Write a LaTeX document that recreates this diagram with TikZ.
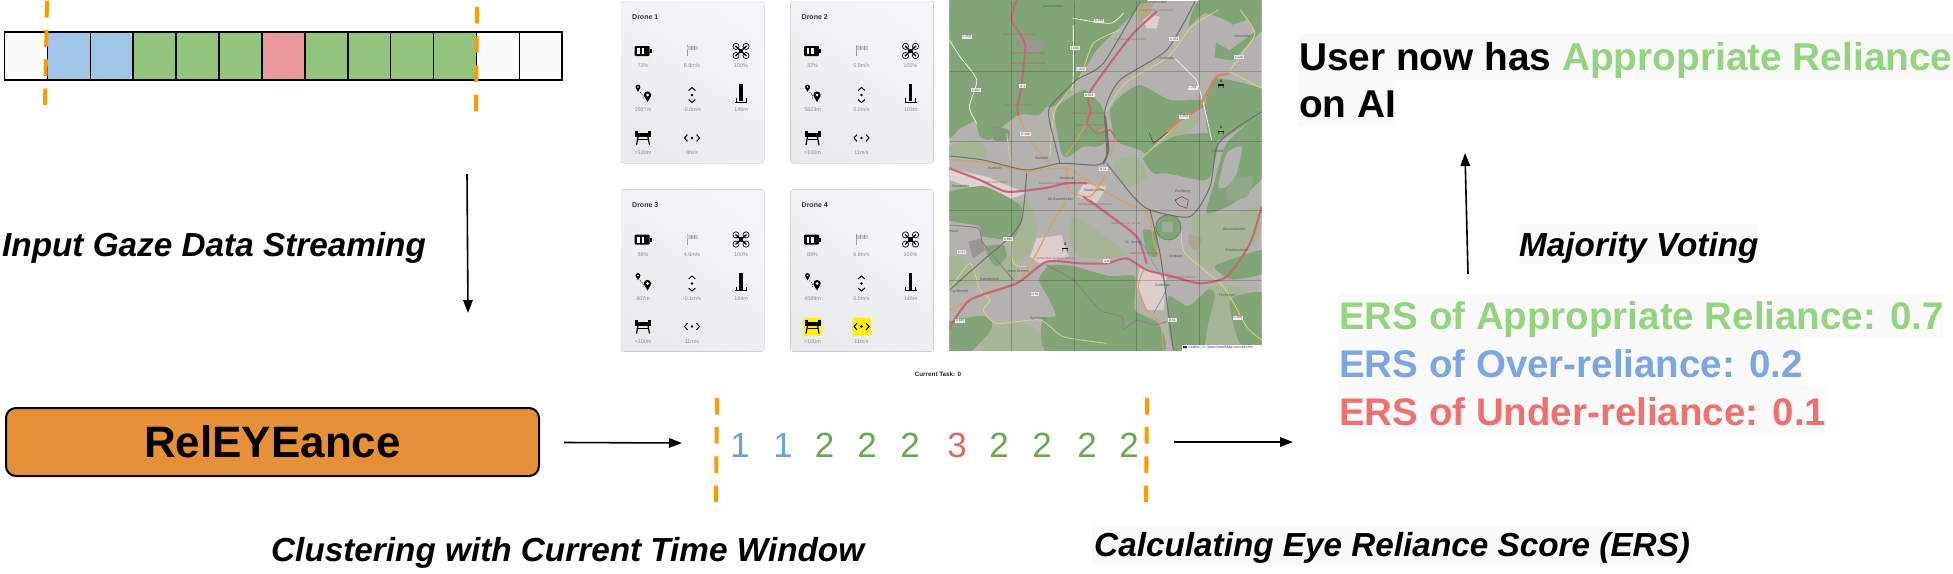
\documentclass[tikz,border=0pt]{standalone}
\usepackage{fontspec}
\setmainfont{Liberation Sans}
\usetikzlibrary{arrows.meta,shapes.geometric}
\definecolor{cwhite}{HTML}{FBFBFB}
\definecolor{cblue}{HTML}{9FC5E8}
\definecolor{cgreen}{HTML}{93C47D}
\definecolor{cred}{HTML}{EA9999}
\definecolor{corange}{HTML}{FF9900}
\definecolor{boxor}{HTML}{E69138}
\definecolor{dblue}{HTML}{6FA0DC}
\definecolor{dgreen}{HTML}{6AA84F}
\definecolor{dred}{HTML}{E06666}
\definecolor{tgreen}{HTML}{93D47F}
\definecolor{tblue}{HTML}{7BA5E3}
\definecolor{tred}{HTML}{F07070}
\definecolor{bgt}{HTML}{FAFAFA}
\definecolor{forest}{HTML}{82A577}
\definecolor{lforest}{HTML}{A6B596}
\definecolor{urban}{HTML}{B4B2AE}
\definecolor{aroad}{HTML}{C9667A}
\definecolor{oroad}{HTML}{D9A05E}
\definecolor{yroad}{HTML}{DAD67F}
\definecolor{rail}{HTML}{707070}
\definecolor{bound}{HTML}{8A7F8A}
\definecolor{lgray}{HTML}{8C8C8C}
\definecolor{paneltop}{HTML}{F5F6F9}
\definecolor{panelbot}{HTML}{E9EAEC}
\tikzset{
  cellbox/.style={draw=black,line width=1.6pt,minimum width=42.9pt,minimum height=48pt,inner sep=0pt,outer sep=0pt},
  winline/.style={draw=corange,line width=4pt,dash pattern=on 16.5pt off 12.7pt},
  flow/.style={draw=black,line width=1.6pt,-{Triangle[length=13pt,width=9.5pt]},shorten >=0pt},
  digit/.style={font=\fontsize{35}{35}\selectfont,inner sep=0pt},
  captxt/.style={font=\fontsize{33.3}{38}\selectfont\bfseries\itshape,inner sep=0pt,anchor=west},
  head/.style={font=\fontsize{38.8}{44}\selectfont\bfseries,inner sep=0pt,anchor=west},
  ers/.style={font=\fontsize{38.5}{44}\selectfont\bfseries,inner sep=0pt,anchor=west},
  val/.style={font=\fontsize{5.4}{6}\selectfont,text=lgray,inner sep=0pt},
  dtitle/.style={font=\fontsize{7}{8}\selectfont\bfseries,text=black!80,inner sep=0pt,anchor=west},
  maptxt/.style={font=\fontsize{3.6}{4}\selectfont,text=black!65,inner sep=0pt},
  mapbox/.style={font=\fontsize{3.2}{4}\selectfont,text=black!70,fill=white!92!black,inner sep=1pt},
  aroadl/.style={draw=aroad,line width=2.1pt,line cap=round},
  oroadl/.style={draw=oroad,line width=1.1pt,line cap=round},
  yroadl/.style={draw=yroad,line width=.8pt,line cap=round},
  wroadl/.style={draw=white!90!gray,line width=.8pt,line cap=round},
  raill/.style={draw=rail,line width=1pt,line cap=round},
  boundl/.style={draw=bound,line width=1pt,line cap=round},
  gridl/.style={draw=black,opacity=.2,line width=.6pt},
  forestp/.style={fill=forest,draw=none},
  lforestp/.style={fill=lforest,draw=none},
}
% icons, centred at the origin, one pixel to the unit
\newcommand{\icbat}[1]{\begin{scope}[shift={#1}]
 \fill[black,rounded corners=1pt] (-8.5,-5) rectangle (6.5,5);
 \fill[black] (6.5,-2) rectangle (8.5,2);
 \fill[white] (-6,-3) rectangle (-3.5,3); \fill[white] (-1.5,-3) rectangle (1,3);
\end{scope}}
\newcommand{\icsock}[1]{\begin{scope}[shift={#1}]
 \draw[gray!80,line width=.5pt] (-5,-5) -- (-5,6);
 \fill[gray!40] (-4.6,-4) rectangle (6,0);
 \draw[gray!80,line width=.3pt] (-1,-4) -- (-1,0) (2.5,-4) -- (2.5,0);
\end{scope}}
\newcommand{\icdrone}[1]{\begin{scope}[shift={#1}]
 \draw[black,line width=1.3pt] (-5.5,-5) -- (5.5,5) (-5.5,5) -- (5.5,-5);
 \fill[black] (-2.2,-2.2) rectangle (2.2,2.2);
 \foreach \sx in {-1,1}\foreach \sy in {-1,1}{
   \draw[black,line width=.7pt] (\sx*5,\sy*4.6) circle (3.1pt);}
\end{scope}}
\newcommand{\icpin}[1]{\begin{scope}[shift={#1}]
 \fill[black] (-5,-8) circle (2.4pt); \fill[black] (-7.2,-7) -- (-5,-3.2) -- (-2.8,-7) -- cycle;
 \fill[white] (-5,-8) circle (.9pt);
 \fill[black] (4.5,0) circle (3.6pt); \fill[black] (1.2,1.2) -- (4.5,7) -- (7.8,1.2) -- cycle;
 \fill[white] (4.5,0) circle (1.5pt);
 \draw[black,line width=.5pt,dash pattern=on 1.2pt off 1pt] (-3,-3) -- (0,0) -- (0,4);
\end{scope}}
\newcommand{\icvs}[1]{\begin{scope}[shift={#1}]
 \draw[black,line width=1pt] (-3.4,-4.5) -- (0,-7.5) -- (3.4,-4.5);
 \draw[black,line width=1pt] (-3.4,4.5) -- (0,7.5) -- (3.4,4.5);
 \fill[black] (0,0) circle (1.4pt);
\end{scope}}
\newcommand{\icalt}[1]{\begin{scope}[shift={#1}]
 \fill[black] (-1.6,-11) rectangle (1.6,6);
 \draw[black,line width=.8pt] (-6,7) -- (6,7) (-5,3) -- (-5,7) (5,3) -- (5,7);
\end{scope}}
\newcommand{\icland}[1]{\begin{scope}[shift={#1}]
 \fill[black] (-8,-5) rectangle (8,-1);
 \fill[black] (-8,-7) rectangle (-5,-5); \fill[black] (5,-7) rectangle (8,-5);
 \draw[black,line width=1.2pt] (-5,-1) -- (-6.5,7) (5,-1) -- (6.5,7);
 \draw[black,line width=.6pt] (-5,1.5) -- (5,1.5);
\end{scope}}
\newcommand{\ichs}[1]{\begin{scope}[shift={#1}]
 \draw[black,line width=1pt] (-4.5,-3.4) -- (-7.5,0) -- (-4.5,3.4);
 \draw[black,line width=1pt] (4.5,-3.4) -- (7.5,0) -- (4.5,3.4);
 \fill[black] (0,0) circle (1.4pt);
\end{scope}}
\newcommand{\panel}[5]{\begin{scope}[shift={#2}]
 \fill[draw=black!4,rounded corners=2.5pt,top color=paneltop,bottom color=panelbot,shading angle=-35] (621,1) rectangle (764,163);
 \node[dtitle] (#1title) at (632,17) {Drone #1};
 \icbat{(643,51)} \icsock{(692,50)} \icdrone{(741,51)}
 \icpin{(643,95)} \icvs{(692,95)} \icalt{(741,95)}
 #5
 \icland{(643,138)} \ichs{(692,138)}
 \foreach[count=\n] \vx/\vy/\vt in {#3}{\node[val] (#1v\n) at (\vx,\vy) {\vt};}
 \foreach[count=\n] \vx/\vy/\vt in {#4}{\node[val] (#1w\n) at (\vx,\vy) {\vt};}
\end{scope}}
\begin{document}
\begin{tikzpicture}[x=1pt,y=-1pt]
\useasboundingbox (0,0) rectangle (1953,573);
\fill[white] (0,0) rectangle (1953,573);

% --- streaming strip
\foreach[count=\n] \colr in {cwhite,cblue,cblue,cgreen,cgreen,cgreen,cred,cgreen,cgreen,cgreen,cgreen,cwhite,cwhite}{
  \node[cellbox,fill=\colr] (c\n) at ({4.5+42.9*(\n-.5)},56) {};
}
\coordinate (wa1) at (47,1); \coordinate (wa2) at (45,105);
\coordinate (wb1) at (477,7); \coordinate (wb2) at (476,112);
\draw[winline] (wa1) -- (wa2);
\draw[winline] (wb1) -- (wb2);

% --- left column
\node[captxt] (input) at (2,248) {Input Gaze Data Streaming};
\coordinate (stripout) at (467,174); \coordinate (relin) at (468,313);
\draw[flow] (stripout) -- (relin);
\node[draw=black,line width=2pt,fill=boxor,rounded corners=10pt,minimum width=533pt,minimum height=68pt,inner sep=0pt,font=\fontsize{44}{48}\selectfont\bfseries] (rel) at (272.5,442) {RelEYEance};
\coordinate (seqin) at (682,443);
\draw[flow] (rel.east)++(24,0.5) coordinate (relout) -- (seqin);
\node[captxt] (cluster) at (271,553) {Clustering with Current Time Window};

% --- drone panels
\panel{1}{(0,0)}{643/66/72\%,692/66/{6.8m/s},741/66/100\%,643/110/2927m,692/110/{-0.0m/s}}{741/110/146m,643/153/>100m,692/153/{8m/s}}{}
\panel{2}{(169.5,0)}{643/66/32\%,692/66/{5.9m/s},741/66/100\%,643/110/5623m,692/110/{0.0m/s}}{741/110/103m,643/153/>100m,692/153/{11m/s}}{}
\panel{3}{(0,188.5)}{643/66/86\%,692/66/{4.6m/s},741/66/100\%,643/110/807m,692/110/{-0.1m/s}}{741/110/184m,643/153/>100m,692/153/{11m/s}}{}
\panel{4}{(169.5,188.5)}{643/66/89\%,692/66/{6.8m/s},741/66/100\%,643/110/4589m,692/110/{0.0m/s}}{741/110/146m,643/153/>100m,692/153/{11m/s}}{\fill[yellow,rounded corners=1pt] (634,129) rectangle (652,147); \fill[yellow,rounded corners=1pt] (683,129) rectangle (701,147);}
\node[font=\fontsize{6.3}{7}\selectfont\bfseries,text=black!85,inner sep=0pt] (task) at (938,374) {Current Task: 0};

% --- map, in coordinates three times finer than the page
\begin{scope}[shift={(940,0)},x=.33333pt,y=-.33333pt]
\clip (28,2) rectangle (965,1052);
\fill[urban] (28,2) rectangle (965,1052);
% light and pink patches
\fill[white!72!pink!75!gray] (28,505) -- (140,530) -- (260,580) -- (200,600) -- (28,540) -- cycle;
\fill[white!62!pink!75!gray] (290,715) -- (365,705) -- (385,770) -- (300,790) -- (270,770) -- cycle;
\fill[white!62!pink!75!gray] (430,550) -- (500,560) -- (470,610) -- (410,590) -- cycle;
\fill[white!62!pink!75!gray] (600,800) -- (680,830) -- (670,930) -- (620,930) -- (590,860) -- cycle;
\fill[white!62!pink!75!gray] (600,40) -- (660,50) -- (650,85) -- (620,85) -- cycle;
\fill[lforestp] (655,410) -- (730,355) -- (790,345) -- (750,390) -- (700,440) -- cycle;
% lighter green, gardens and meadows
\fill[lforestp] plot[smooth cycle,tension=.4] coordinates {(217,618) (270,610) (290,680) (270,760) (225,780) (205,700)};
\fill[lforestp] plot[smooth cycle,tension=.4] coordinates {(760,650) (880,640) (965,620) (950,720) (860,790) (800,810) (770,760)};
\fill[lforestp] plot[smooth cycle,tension=.4] coordinates {(400,650) (470,690) (560,760) (500,775) (420,770) (390,720)};
\fill[lforestp] plot[smooth cycle,tension=.4] coordinates {(800,870) (900,860) (965,930) (965,1030) (840,1040) (790,1040)};
\fill[lforestp] plot[smooth cycle,tension=.4] coordinates {(130,780) (210,770) (235,830) (170,850) (120,830)};
\fill[lforestp] plot[smooth cycle,tension=.4] coordinates {(28,770) (95,790) (110,850) (30,860)};
\fill[lforestp] plot[smooth cycle,tension=.4] coordinates {(150,980) (270,975) (310,1052) (130,1052)};
\fill[lforestp] plot[smooth cycle,tension=.4] coordinates {(520,490) (590,470) (620,530) (560,560)};
\fill[lforestp] plot[smooth cycle,tension=.4] coordinates {(20,440) (110,420) (140,470) (30,470)};
% forests
\fill[forestp] plot[smooth cycle,tension=.35] coordinates {(20,-5) (600,-5) (585,35) (530,90) (470,150) (430,215) (395,270) (340,320) (320,320) (295,345) (235,345) (170,395) (150,420) (120,410) (105,365) (60,385) (20,400)};
\fill[forestp] plot[smooth cycle,tension=.35] coordinates {(345,330) (430,270) (470,300) (490,330) (500,420) (470,440) (430,440) (385,470) (365,460)};
\fill[forestp] plot[smooth cycle,tension=.35] coordinates {(510,330) (540,290) (600,255) (690,300) (780,300) (790,320) (720,365) (680,400) (620,460) (600,450) (540,430) (520,400)};
\fill[forestp] plot[smooth cycle,tension=.35] coordinates {(610,470) (700,410) (800,400) (835,430) (810,530) (780,540) (680,520) (640,520)};
\fill[forestp] plot[smooth cycle,tension=.35] coordinates {(745,80) (795,40) (875,70) (865,110) (835,110) (825,170) (875,180) (895,165) (925,130) (975,80) (975,-5) (785,-5)};
\fill[forestp] plot[smooth cycle,tension=.35] coordinates {(825,235) (975,270) (975,330) (860,410) (810,420) (795,320)};
\fill[forestp] plot[smooth cycle,tension=.35] coordinates {(860,430) (975,340) (975,520) (880,610) (800,640) (820,560)};
\fill[forestp] plot[smooth cycle,tension=.35] coordinates {(20,580) (127,558) (197,588) (242,618) (247,658) (217,718) (127,708) (117,678) (20,658)};
\fill[forestp] plot[smooth cycle,tension=.35] coordinates {(297,838) (327,798) (397,798) (507,828) (585,830) (585,930) (655,970) (665,1060) (327,1060) (307,958) (347,948) (327,898)};
\fill[forestp] plot[smooth cycle,tension=.35] coordinates {(20,968) (127,948) (157,968) (147,998) (87,1060) (20,1060)};
\fill[forestp] plot[smooth cycle,tension=.35] coordinates {(685,888) (745,918) (805,868) (825,888) (805,968) (785,1060) (705,1060) (685,978)};
\fill[forestp] plot[smooth cycle,tension=.35] coordinates {(825,798) (975,748) (975,818) (875,838)};
\fill[forestp] plot[smooth cycle,tension=.35] coordinates {(870,900) (975,880) (975,1030) (900,1030)};
\fill[forestp] plot[smooth cycle,tension=.35] coordinates {(500,0) (590,0) (560,50) (510,90) (500,60)};
\fill[forestp] plot[smooth cycle,tension=.35] coordinates {(610,690) (650,700) (650,770) (620,760)};
\fill[forestp] plot[smooth cycle,tension=.35] coordinates {(135,740) (190,735) (200,770) (170,800) (150,780)};
\fill[forest!70!urban] plot[smooth cycle,tension=.35] coordinates {(870,540) (940,530) (920,590) (860,600)};
\fill[urban] plot[smooth cycle,tension=.35] coordinates {(860,460) (905,440) (890,520) (860,560) (835,560)};
\fill[forestp] (685,682) circle[radius=38];
\draw[green!40!black,opacity=.5,line width=.6pt] (685,682) circle[radius=38];
\fill[urban!60!forest] (665,665) rectangle (700,695);
\fill[forest!70!gray] plot[smooth cycle,tension=.4] coordinates {(160,380) (205,390) (205,420) (160,420)};
\fill[black!45!yellow!40!gray!80] plot[smooth cycle,tension=.4] coordinates {(748,705) (790,715) (768,750) (748,735)};
\fill[black!40!yellow!50!gray!80] (590,10) -- (640,10) -- (630,45) -- (595,70) -- cycle;
\fill[urban!85!black] (230,105) -- (320,130) -- (290,165) -- (250,150) -- cycle;
\fill[urban!85!black] (85,725) -- (125,715) -- (135,750) -- (100,775) -- cycle;
\fill[urban] (830,90) -- (920,60) -- (945,95) -- (870,150) -- (830,130) -- cycle;
% boundaries
\draw[boundl] plot[smooth,tension=.3] coordinates {(28,675) (115,685) (130,730) (220,840)};
\draw[boundl] plot[smooth,tension=.3] coordinates {(320,795) (400,840) (480,930) (545,950) (550,990) (590,960) (640,975) (680,965)};
\draw[draw=purple!50!black,line width=.5pt,opacity=.7] (628,398) -- (640,430) -- (685,395);
\draw[draw=purple!60!black,line width=.5pt,opacity=.7] (705,600) -- (725,590) -- (745,600) -- (740,625) -- (715,615) -- cycle;
% minor roads
\draw[wroadl] plot[smooth,tension=.4] coordinates {(28,120) (60,170) (110,240) (88,320) (110,370)};
\draw[wroadl] plot[smooth,tension=.4] coordinates {(400,75) (400,230) (395,270)};
\draw[wroadl] plot[smooth,tension=.4] coordinates {(400,55) (510,70) (550,40)};
\draw[wroadl] plot[smooth,tension=.4] coordinates {(770,240) (790,310) (815,420)};
\draw[wroadl] plot[smooth,tension=.4] coordinates {(700,170) (770,240)};
\draw[yroadl] plot[smooth,tension=.4] coordinates {(495,340) (555,250) (685,170) (755,80) (835,30)};
\draw[yroadl] plot[smooth,tension=.4] coordinates {(610,470) (690,395)};
\draw[yroadl] plot[smooth,tension=.4] coordinates {(870,210) (900,170) (945,100) (900,30)};
\draw[yroadl] plot[smooth,tension=.4] coordinates {(870,215) (965,265)};
\draw[yroadl] plot[smooth,tension=.4] coordinates {(540,90) (460,130) (420,230) (345,330) (330,470)};
\draw[yroadl] plot[smooth,tension=.4] coordinates {(28,870) (90,790) (120,870) (150,900) (130,930) (170,970) (300,960) (370,1010) (500,1030)};
\draw[yroadl] plot[smooth,tension=.4] coordinates {(725,700) (735,760) (850,860) (920,980) (965,1020)};
\draw[yroadl] plot[smooth,tension=.4] coordinates {(200,400) (210,480)};
\draw[yroadl] plot[smooth,tension=.4] coordinates {(210,700) (220,790) (260,800)};
% main roads
\draw[oroadl] plot[smooth,tension=.4] coordinates {(235,345) (270,420) (330,490)};
\draw[oroadl] plot[smooth,tension=.4] coordinates {(375,610) (330,680) (290,760) (240,840)};
\draw[oroadl] plot[smooth,tension=.4] coordinates {(28,478) (150,490) (260,515) (380,505) (470,560) (560,610) (625,640) (640,720) (665,790)};
\draw[oroadl] plot[smooth,tension=.4] coordinates {(375,470) (410,420) (440,370)};
\draw[oroadl] plot[smooth,tension=.4] coordinates {(610,810) (595,860) (620,930) (660,970) (670,1052)};
\draw[oroadl] plot[smooth,tension=.4] coordinates {(28,930) (130,880) (230,850)};
\draw[oroadl] plot[smooth,tension=.4] coordinates {(380,505) (385,570) (450,590) (500,520)};
\draw[oroadl] plot[smooth,tension=.4] coordinates {(510,470) (525,415) (500,385) (470,400)};
\draw[cyan!40!gray,line width=.8pt] plot[smooth,tension=.4] coordinates {(450,600) (530,660) (600,720) (640,790) (680,860) (640,940)};
\draw[aroadl] plot[smooth,tension=.4] coordinates {(228,5) (215,60) (255,130) (250,200) (245,260) (232,320) (235,345)};
\draw[aroadl] plot[smooth,tension=.4] coordinates {(650,35) (580,100) (510,190) (445,285) (452,330) (440,370)};
\draw[aroadl,line width=1.3pt] plot[smooth,tension=.4] coordinates {(440,370) (470,400) (510,390) (525,415)};
\draw[aroadl] plot[smooth,tension=.4] coordinates {(28,505) (120,540) (200,575) (310,565) (380,550) (440,550)};
\draw[aroadl] plot[smooth,tension=.4] coordinates {(430,590) (500,640) (590,710) (620,790)};
\draw[aroadl] plot[smooth,tension=.4] coordinates {(28,985) (90,900) (230,850) (320,785) (420,790) (500,790) (560,775) (620,810) (700,830) (780,850) (860,830) (930,730) (965,620)};
\draw[aroadl,draw=aroad!60!orange!90!white] plot[smooth,tension=.4] coordinates {(865,222) (830,230) (800,280) (770,330) (720,360) (680,395)};
% railways
\draw[raill] plot[smooth,tension=.4] coordinates {(28,468) (130,480) (260,510) (360,490) (470,495) (500,470) (495,330) (540,240) (680,150) (765,5)};
\draw[raill,line width=2pt] plot[smooth,tension=.4] coordinates {(490,490) (505,450) (495,350)};
\draw[raill] plot[smooth,tension=.4] coordinates {(600,5) (490,190) (410,240) (330,320) (330,370) (360,490)};
\draw[raill] plot[smooth,tension=.4] coordinates {(500,490) (580,590) (630,630) (750,650) (810,560) (830,440) (880,390) (965,335)};
\draw[raill] plot[smooth,tension=.4] coordinates {(630,630) (660,760) (680,900) (700,1050)};
\draw[raill] plot[smooth,tension=.4] coordinates {(28,870) (130,780) (200,720) (245,660) (260,520)};
% grid
\foreach \gx in {215,403,590,778}{\draw[gridl] (\gx,2) -- (\gx,1052);}
\foreach \gy in {213,423,632,842}{\draw[gridl] (28,\gy) -- (965,\gy);}
% place names
\foreach[count=\n] \px/\py/\pt in {338/20/Saarbrücken,650/8/Camphausen,908/110/Neuweiler,683/175/Dudweiler,832/453/Scheidt,728/575/Eschberg,165/505/Burbach,305/475/Malstatt,62/558/Gersweiler,462/571/Saarbrücken,362/597/Alt-Saarbrücken,580/727/St. Arnual,708/770/Brebach,883/688/Bischmisheim,668/857/Güdingen,862/887/Fechingen,148/838/Habsterdick,60/875/rg-Wendel,235/815/Neue Bremm,295/957/Spicheren,890/750/Bischmisheim,380/535/Heuduck,42/695/mack}{
  \node[maptxt] (pl\n) at (\px,\py) {\pt};
}
\foreach[count=\n] \px/\py/\pt in {80/110/L 259,108/270/L 252,478/62/L 268,405/145/L 269,422/207/L 273,257/402/B 268,448/285/A 623,248/258/A 1,703/118/L 251,897/172/L 126,758/263/L 251,732/350/L 252,490/508/B 51,60/962/A 620,65/757/D 32,285/882/D 50,697/960/B 51,893/953/L 108,500/783/A 6,204/718/A 620}{
  \node[mapbox] (rl\n) at (\px,\py) {\pt};
}
\foreach[count=\n] \px/\py/\pt in {235/105/Saarbrücken Matzenberg,262/162/Saarbrücken Von der Heydt,262/190/Saarbrücken Von der Heydt,232/317/Saarbrücken Burbach,445/342/Saarbrücken Jägersfreude,450/377/Saarbrücken Rastpfuhl,515/424/A 623 Saarbrücken,570/118/Saarbrücken Herrensohr,650/32/Saarbrücken Camphausen,165/547/Saarbrücken West,350/550/Saarbrücken Hauptbahnhof,465/613/Saarbrücken Römerbrücke,555/670/Saarbrücken St. Arnual,612/762/Saarbrücken Güdingen,345/775/Saarbrücken Goldene Bremm,725/832/Saarbrücken Brebach}{
  \node[maptxt,text=aroad!90!black,font=\fontsize{2.9}{3}\selectfont] (st\n) at (\px,\py) {\pt};
}
% drone markers
\foreach[count=\n] \mx/\my/\mt in {843/258/4,843/397/1,375/748/2}{
  \node[font=\fontsize{3.5}{4}\selectfont\bfseries,inner sep=0pt] (mk\n) at (\mx,\my-15) {\mt};
  \fill[black] (\mx-8,\my-5) rectangle (\mx+8,\my-1);
  \draw[black,line width=.5pt] (\mx-6,\my-1) -- (\mx-7,\my+6) (\mx+6,\my-1) -- (\mx+7,\my+6);
}
% attribution
\fill[white] (725,1035) rectangle (965,1052);
\node[font=\fontsize{3.7}{4}\selectfont,inner sep=0pt,anchor=west,text=black!70] (attr) at (745,1043) {\textcolor{blue!60!gray}{Leaflet} | © \textcolor{blue!60!gray}{OpenStreetMap} contributors};
\fill[blue!70!gray] (729,1039) rectangle (741,1043);
\fill[yellow!90!orange] (729,1043) rectangle (741,1047);
\end{scope}

% --- sequence of clusters
\coordinate (wc1) at (717,398); \coordinate (wc2) at (716,502);
\coordinate (wd1) at (1147,398); \coordinate (wd2) at (1146,502);
\draw[winline] (wc1) -- (wc2);
\draw[winline] (wd1) -- (wd2);
\foreach[count=\n] \dx/\dt/\dc in {740/1/dblue,783/1/dblue,824.5/2/dgreen,867/2/dgreen,910/2/dgreen,957/3/dred,999/2/dgreen,1042/2/dgreen,1087/2/dgreen,1129/2/dgreen}{
  \node[digit,text=\dc] (g\n) at (\dx,445) {\dt};
}
\coordinate (seqout) at (1174,442); \coordinate (ersin) at (1293,442);
\draw[flow] (seqout) -- (ersin);

% --- right column
\fill[bgt] (1092,526) rectangle (1690,566);
\node[captxt] (calc) at (1094,548) {Calculating Eye Reliance Score (ERS)};
\fill[bgt] (1338,293) rectangle (1943,339);
\fill[bgt] (1338,339) rectangle (1801,386);
\fill[bgt] (1338,386) rectangle (1825,433);
\node[ers,text=tgreen] (e1) at (1339,320) {ERS of Appropriate Reliance: 0.7};
\node[ers,text=tblue] (e2) at (1339,364) {ERS of Over-reliance: 0.2};
\node[ers,text=tred] (e3) at (1339,412) {ERS of Under-reliance: 0.1};
\fill[bgt] (1518,224) rectangle (1757,264);
\node[captxt] (vote) at (1519,248) {Majority Voting};
\coordinate (voteout) at (1468,274); \coordinate (userin) at (1465,153);
\draw[flow] (voteout) -- (userin);
\fill[bgt] (1298,33) rectangle (1953,80);
\fill[bgt] (1298,80) rectangle (1394,126);
\node[head] (u1) at (1299,60) {User now has \textcolor{tgreen}{Appropriate Reliance}};
\node[head] (u2) at (1299,104) {on AI};
\end{tikzpicture}
\end{document}
